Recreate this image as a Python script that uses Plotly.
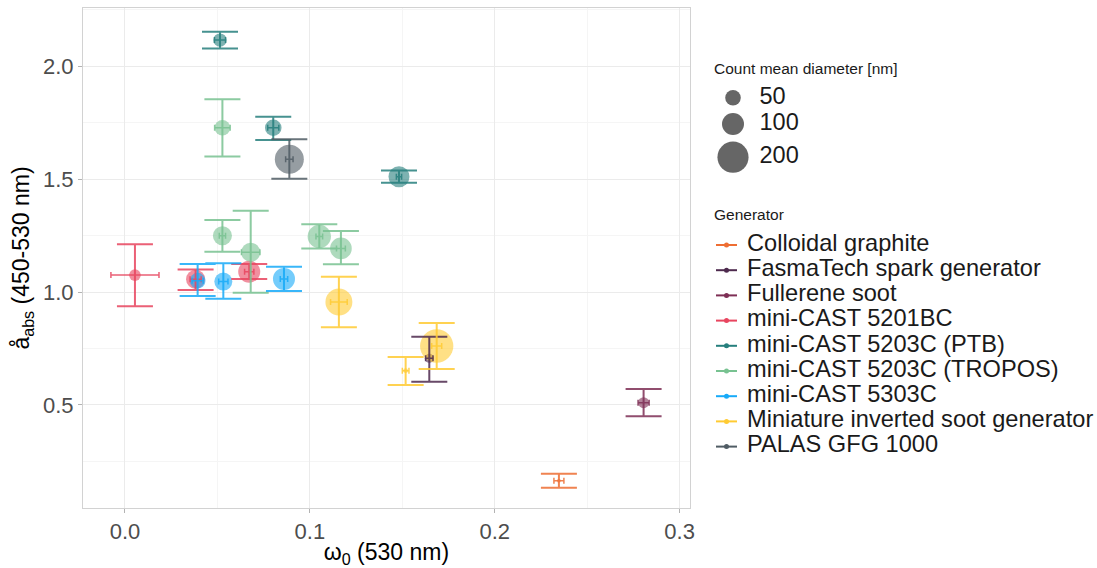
import numpy as np
import plotly.graph_objects as go

# ---------------- data ----------------
categories = [
    "Colloidal graphite",
    "FasmaTech spark generator",
    "Fullerene soot",
    "mini-CAST 5201BC",
    "mini-CAST 5203C (PTB)",
    "mini-CAST 5203C (TROPOS)",
    "mini-CAST 5303C",
    "Miniature inverted soot generator",
    "PALAS GFG 1000",
]
colors = ["#EE6E33", "#4E2A4E", "#7E2F55", "#E8455F", "#267F7D",
          "#78C291", "#17AAF8", "#FFCB33", "#505C64"]

generator = [0, 1, 2, 3, 3, 3, 4, 4, 4, 5, 5, 5, 5, 5, 6, 6, 6, 7, 7, 7, 8]
omega     = [0.2347, 0.1646, 0.2805, 0.0054, 0.0382, 0.0672, 0.0514, 0.0802, 0.1482,
             0.0527, 0.0527, 0.0680, 0.1051, 0.1168, 0.0393, 0.0532, 0.0860,
             0.1157, 0.1686, 0.1518, 0.0889]
omega_err = [0.0027, 0.0020, 0.0030, 0.0130, 0.0030, 0.0025, 0.0030, 0.0030, 0.0014,
             0.0042, 0.0017, 0.0050, 0.0018, 0.0024, 0.0030, 0.0025, 0.0020,
             0.0045, 0.0027, 0.0018, 0.0020]
aae       = [0.165, 0.707, 0.510, 1.075, 1.056, 1.090, 2.115, 1.727, 1.510,
             1.727, 1.249, 1.176, 1.246, 1.193, 1.050, 1.046, 1.058,
             0.956, 0.761, 0.652, 1.588]
aae_lo    = [0.134, 0.603, 0.450, 0.937, 1.009, 1.058, 2.078, 1.673, 1.484,
             1.600, 1.178, 0.997, 1.193, 1.123, 0.982, 0.970, 1.004,
             0.844, 0.659, 0.588, 1.501]
aae_hi    = [0.196, 0.802, 0.571, 1.211, 1.100, 1.124, 2.152, 1.776, 1.538,
             1.853, 1.319, 1.360, 1.300, 1.270, 1.124, 1.127, 1.112,
             1.068, 0.863, 0.712, 1.676]
diameter  = [3, 17, 25, 28, 75, 100, 37, 57, 91,
             50, 75, 75, 112, 97, 51, 67, 100,
             150, 229, 5, 174]

size_breaks = [50, 100, 200]
x_ticks = [0.0, 0.1, 0.2, 0.3]
y_ticks = [0.5, 1.0, 1.5, 2.0]

# ---------------- style ----------------
SIZE_K = 2.2          # marker diameter px per sqrt(nm)
FONT = "Liberation Sans, Arial, sans-serif"
W, H = 1097, 568
ML, MR, MT, MB = 83, 0, 8, 60
PANEL_RIGHT = 690


def px_size(d):
    return SIZE_K * np.sqrt(np.asarray(d, dtype=float))


fig = go.Figure()

omega = np.array(omega)
aae = np.array(aae)
aae_lo = np.array(aae_lo)
aae_hi = np.array(aae_hi)
omega_err = np.array(omega_err)
generator = np.array(generator)
diameter = np.array(diameter)

# markers (all groups first)
for g, (name, col) in enumerate(zip(categories, colors)):
    m = generator == g
    fig.add_trace(go.Scatter(
        x=omega[m], y=aae[m], mode="markers",
        marker=dict(size=px_size(diameter[m]), color=col, opacity=0.6,
                    line=dict(width=0)),
        name=name, showlegend=False, hoverinfo="skip"))

# error bars on top
for g, (name, col) in enumerate(zip(categories, colors)):
    m = generator == g
    fig.add_trace(go.Scatter(
        x=omega[m], y=aae[m], mode="markers",
        marker=dict(size=1, color="rgba(0,0,0,0)"),
        error_y=dict(type="data", symmetric=False,
                     array=aae_hi[m] - aae[m], arrayminus=aae[m] - aae_lo[m],
                     color=col, thickness=2, width=18),
        error_x=dict(type="data", array=omega_err[m], color=col,
                     thickness=1.5, width=3),
        opacity=0.85, showlegend=False, hoverinfo="skip"))

# ---------------- legends drawn in a pixel-space overlay axis ----------------
LX0 = 700
dom_x0 = (LX0 - ML) / (W - ML - MR)


def add_text(x, y, text, size, color="#1A1A1A"):
    fig.add_trace(go.Scatter(
        x=[x], y=[y], mode="text", text=[text], textposition="middle right",
        textfont=dict(size=size, color=color, family=FONT),
        xaxis="x2", yaxis="y2", showlegend=False, hoverinfo="skip",
        cliponaxis=False))


# size legend
add_text(714, 70, "Count mean diameter [nm]", 15.5)
ks = px_size(size_breaks)
heights = np.maximum(25.0, ks * 1.25)
centers = 97.7 + np.concatenate([[0], np.cumsum((heights[:-1] + heights[1:]) / 2)])
fig.add_trace(go.Scatter(
    x=[733] * len(size_breaks), y=centers, mode="markers",
    marker=dict(size=ks, color="black", opacity=0.6, line=dict(width=0)),
    xaxis="x2", yaxis="y2", showlegend=False, hoverinfo="skip", cliponaxis=False))
for c, b in zip(centers, size_breaks):
    add_text(759.5, c, str(b), 23.5)

# generator legend
add_text(714, 216, "Generator", 15.5)
for i, (name, col) in enumerate(zip(categories, colors)):
    yc = 245 + i * 25.2
    fig.add_trace(go.Scatter(
        x=[716, 737], y=[yc, yc], mode="lines", line=dict(color=col, width=2),
        xaxis="x2", yaxis="y2", showlegend=False, hoverinfo="skip", cliponaxis=False))
    fig.add_trace(go.Scatter(
        x=[726.5], y=[yc], mode="markers", marker=dict(color=col, size=5),
        xaxis="x2", yaxis="y2", showlegend=False, hoverinfo="skip", cliponaxis=False))
    add_text(747, yc, name, 23.6)

axis_common = dict(
    showgrid=True, gridcolor="#EBEBEB", gridwidth=1,
    showline=True, mirror=True, linecolor="#D2D2D2", linewidth=1,
    ticks="outside", ticklen=4, tickcolor="#B3B3B3", tickwidth=1,
    tickfont=dict(size=22, color="#4D4D4D", family=FONT),
    zeroline=False, automargin=False,
)

fig.update_layout(
    template="none",
    width=W, height=H,
    margin=dict(l=ML, r=MR, t=MT, b=MB),
    paper_bgcolor="white", plot_bgcolor="white",
    font=dict(family=FONT),
    showlegend=False,
    xaxis=dict(
        domain=[0, (PANEL_RIGHT - ML) / (W - ML - MR)],
        range=[-0.0227, 0.3056],
        tickvals=x_ticks, ticktext=[f"{v:.1f}" for v in x_ticks],
        minor=dict(tickvals=[0.05, 0.15, 0.25], showgrid=True,
                   gridcolor="#F5F5F5", gridwidth=1, ticks=""),
        title=dict(text="ω<sub>0</sub> (530 nm)",
                   font=dict(size=23, color="black", family=FONT), standoff=6),
        **axis_common),
    yaxis=dict(
        range=[0.044, 2.257],
        tickvals=y_ticks, ticktext=[f"{v:.1f}" for v in y_ticks],
        minor=dict(tickvals=[0.25, 0.75, 1.25, 1.75, 2.25], showgrid=True,
                   gridcolor="#F5F5F5", gridwidth=1, ticks=""),
        title=dict(text="å<sub>abs</sub> (450-530 nm)",
                   font=dict(size=23, color="black", family=FONT), standoff=6),
        **axis_common),
    xaxis2=dict(domain=[dom_x0, 1], range=[LX0, W], visible=False,
                fixedrange=True, anchor="y2"),
    yaxis2=dict(domain=[0, 1], range=[H - MB, MT], visible=False,
                fixedrange=True, anchor="x2"),
)

fig.write_html(
    "out.html",
    config={"displayModeBar": False},
    post_script="document.body.style.margin='0';document.body.style.overflow='hidden';",
)
